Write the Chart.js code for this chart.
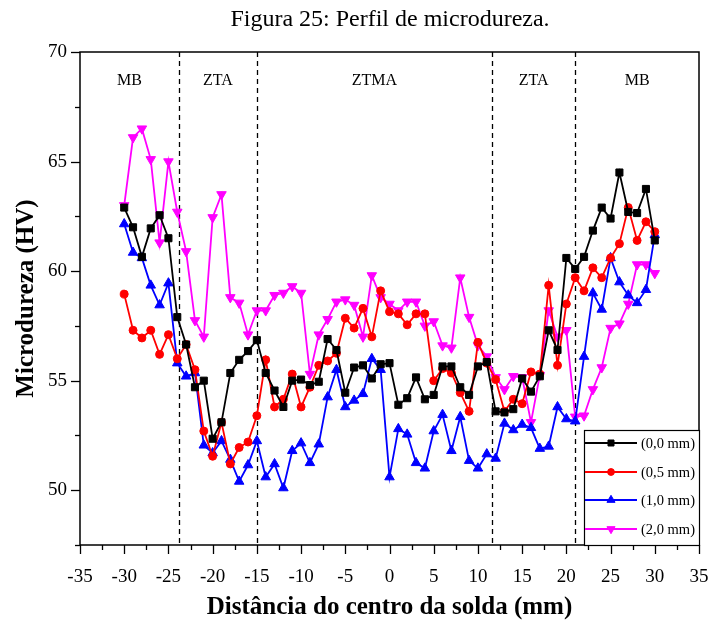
<!DOCTYPE html>
<html><head><meta charset="utf-8">
<script src="https://cdn.jsdelivr.net/npm/chart.js@4.4.0/dist/chart.umd.min.js"></script>
<style>html,body{margin:0;padding:0;background:#fff;}</style>
</head><body>
<canvas id="c" width="711" height="623"></canvas>
<script>
// ---- data ----
const positions = [-30,-29,-28,-27,-26,-25,-24,-23,-22,-21,-20,-19,-18,-17,-16,-15,-14,-13,-12,-11,-10,-9,-8,-7,-6,-5,-4,-3,-2,-1,0,1,2,3,4,5,6,7,8,9,10,11,12,13,14,15,16,17,18,19,20,21,22,23,24,25,26,27,28,29,30];
const depth00 = [62.9,62.0,60.65,61.95,62.55,61.5,57.9,56.65,54.7,55.0,52.35,53.1,55.35,55.95,56.35,56.85,55.35,54.55,53.8,55.0,55.05,54.8,54.95,56.9,56.4,54.45,55.6,55.7,55.1,55.75,55.8,53.9,54.2,55.15,54.15,54.35,55.65,55.65,54.7,54.35,55.65,55.85,53.6,53.55,53.7,55.1,54.5,55.2,57.3,56.4,60.6,60.1,60.65,61.85,62.9,62.4,64.5,62.7,62.65,63.75,61.4];
const depth05 = [58.95,57.3,56.95,57.3,56.2,57.1,56.0,56.65,55.5,52.7,51.55,53.1,51.2,51.95,52.2,53.4,55.95,53.8,54.15,55.3,53.8,54.7,55.7,55.9,56.25,57.85,57.4,58.3,57.0,59.1,58.15,58.05,57.55,58.05,58.05,55.0,55.55,55.35,54.45,53.6,56.75,55.8,55.05,53.6,54.15,53.95,55.4,55.3,59.35,55.7,58.5,59.7,59.1,60.15,59.7,60.6,61.25,62.9,61.4,62.25,61.8];
const depth10 = [62.15,60.85,60.6,59.35,58.45,59.45,55.8,55.2,55.35,52.05,51.7,52.25,51.4,50.4,51.15,52.25,50.6,51.2,50.1,51.8,52.15,51.25,52.1,54.25,55.5,53.8,54.1,54.4,56.0,55.5,50.6,52.8,52.55,51.25,51.0,52.7,53.45,51.8,53.35,51.35,51.0,51.65,51.45,53.05,52.75,53.0,52.85,51.9,52.0,53.8,53.25,53.15,56.1,59.0,58.25,60.6,59.5,58.9,58.55,59.15,61.65];
const depth20 = [63.0,66.1,66.5,65.1,61.3,65.0,62.7,60.9,57.75,57.0,62.45,63.5,58.8,58.55,57.1,58.2,58.2,58.9,59.0,59.3,59.0,55.3,57.1,57.8,58.6,58.7,58.45,57.0,59.8,58.8,58.5,58.2,58.6,58.6,57.5,57.7,56.6,56.5,59.7,57.9,56.6,56.1,55.15,54.6,55.2,55.15,53.1,55.25,58.2,57.0,57.3,53.35,53.4,54.6,55.6,57.4,57.6,58.5,60.3,60.3,59.9];
const seriesLabels = ['(0,0 mm)','(0,5 mm)','(1,0 mm)','(2,0 mm)'];
const zoneBounds = [-23.8, -15, 11.6, 21];
const zoneNames = ['MB','ZTA','ZTMA','ZTA','MB'];
const xTickLabels = [-35,-30,-25,-20,-15,-10,-5,0,5,10,15,20,25,30,35];
const yTickLabels = [50,55,60,65,70];

const FONT = '"Liberation Serif", "Times New Roman", serif';
const colors = ['#000000','#ff0000','#0000ff','#ff00ff'];
const styles = [
  {pointStyle:'rect', r:5, rot:0},
  {pointStyle:'circle', r:4, rot:0},
  {pointStyle:'triangle', r:5.5, rot:0},
  {pointStyle:'triangle', r:5.5, rot:180}
];
const allSeries = [depth00, depth05, depth10, depth20];

const datasets = allSeries.map((vals, i) => ({
  label: seriesLabels[i],
  data: positions.map((p, k) => ({x: p, y: vals[k]})),
  showLine: true,
  borderColor: colors[i],
  backgroundColor: colors[i],
  borderWidth: 1.8,
  pointStyle: styles[i].pointStyle,
  pointRadius: styles[i].r,
  pointRotation: styles[i].rot,
  pointBorderWidth: 1,
  tension: 0
}));

function drawMarker(ctx, st, x, y, color) {
  ctx.save();
  ctx.fillStyle = color; ctx.strokeStyle = color; ctx.lineWidth = 1;
  ctx.beginPath();
  const r = st.r;
  if (st.pointStyle === 'rect') {
    const s = Math.SQRT1_2 * r;
    ctx.rect(x - s, y - s, 2*s, 2*s);
  } else if (st.pointStyle === 'circle') {
    ctx.arc(x, y, r, 0, Math.PI*2);
  } else {
    const rad = st.rot * Math.PI / 180;
    for (let k = 0; k < 3; k++) {
      const a = rad + k * 2*Math.PI/3;
      const px = x + Math.sin(a) * r, py = y - Math.cos(a) * r;
      if (k === 0) ctx.moveTo(px, py); else ctx.lineTo(px, py);
    }
    ctx.closePath();
  }
  ctx.fill(); ctx.stroke();
  ctx.restore();
}

const deco = {
  id: 'deco',
  beforeDatasetsDraw(chart) {
    const {ctx, chartArea: a, scales: {x, y}} = chart;
    ctx.save();
    ctx.strokeStyle = '#000'; ctx.lineWidth = 1.3; ctx.setLineDash([5, 4]);
    zoneBounds.forEach(v => {
      const px = Math.round(x.getPixelForValue(v)) + 0.5;
      ctx.beginPath(); ctx.moveTo(px, a.top); ctx.lineTo(px, a.bottom); ctx.stroke();
    });
    ctx.setLineDash([]);
    ctx.fillStyle = '#000'; ctx.font = '16px ' + FONT;
    ctx.textAlign = 'center'; ctx.textBaseline = 'middle';
    const edges = [x.min].concat(zoneBounds, [x.max]);
    zoneNames.forEach((t, i) => {
      const mid = (edges[i] + edges[i+1]) / 2;
      ctx.fillText(t, x.getPixelForValue(mid), a.top + 29);
    });
    ctx.restore();
  },
  afterDraw(chart) {
    const {ctx, chartArea: a, scales: {x, y}} = chart;
    ctx.save();
    // title
    ctx.fillStyle = '#000'; ctx.font = '24px ' + FONT;
    ctx.textAlign = 'center'; ctx.textBaseline = 'middle';
    ctx.fillText('Figura 25: Perfil de microdureza.', 390, 20);
    // frame
    ctx.strokeStyle = '#000'; ctx.lineWidth = 1.5;
    ctx.strokeRect(a.left, a.top, a.right - a.left, a.bottom - a.top);
    // ticks
    ctx.lineWidth = 1.3;
    x.ticks.forEach(t => {
      const px = Math.round(x.getPixelForValue(t.value)) + 0.5;
      const major = Math.abs(t.value % 5) < 1e-6;
      ctx.beginPath(); ctx.moveTo(px, a.bottom); ctx.lineTo(px, a.bottom + (major ? 9 : 5)); ctx.stroke();
    });
    y.ticks.forEach(t => {
      const py = Math.round(y.getPixelForValue(t.value)) + 0.5;
      const major = Math.abs(t.value % 5) < 1e-6;
      ctx.beginPath(); ctx.moveTo(a.left, py); ctx.lineTo(a.left - (major ? 9 : 5), py); ctx.stroke();
    });
    // legend
    const lx = 584, ly = 430;
    ctx.fillStyle = '#fff';
    ctx.fillRect(lx, ly, a.right - lx, a.bottom - ly);
    ctx.strokeStyle = '#000'; ctx.lineWidth = 1.2;
    ctx.strokeRect(lx + 0.5, ly + 0.5, a.right - lx, a.bottom - ly);
    const rows = [443, 472, 500, 529];
    ctx.font = '14.5px ' + FONT; ctx.textAlign = 'left'; ctx.textBaseline = 'middle';
    seriesLabels.forEach((lab, i) => {
      ctx.strokeStyle = colors[i]; ctx.lineWidth = 1.8;
      ctx.beginPath(); ctx.moveTo(lx + 1, rows[i]); ctx.lineTo(lx + 53, rows[i]); ctx.stroke();
      drawMarker(ctx, {pointStyle: styles[i].pointStyle, r: styles[i].r * 0.85, rot: styles[i].rot}, lx + 27, rows[i], colors[i]);
      ctx.fillStyle = '#000';
      ctx.fillText(lab, lx + 57, rows[i] + 1);
    });
    ctx.restore();
  }
};

new Chart(document.getElementById('c'), {
  type: 'scatter',
  data: { datasets },
  options: {
    responsive: false,
    animation: false,
    layout: { padding: { top: 52, right: 12, left: 0, bottom: 0 } },
    plugins: { legend: { display: false }, tooltip: { enabled: false }, title: { display: false } },
    scales: {
      x: {
        type: 'linear', min: -35, max: 35,
        border: { display: false },
        grid: { display: false, drawTicks: false },
        ticks: {
          stepSize: 2.5, padding: 21, color: '#000', maxRotation: 0, autoSkip: false,
          font: { family: FONT, size: 19 },
          callback: v => xTickLabels.includes(v) ? String(v) : ''
        },
        title: { display: true, text: 'Distância do centro da solda (mm)', color: '#000',
          font: { family: FONT, size: 25, weight: 'bold' }, padding: { top: 0, bottom: 0 } },
        afterFit: s => { s.height = 78; s.paddingLeft = 0; s.paddingRight = 0; }
      },
      y: {
        type: 'linear', min: 47.5, max: 70,
        border: { display: false },
        grid: { display: false, drawTicks: false },
        ticks: {
          stepSize: 2.5, padding: 13, color: '#000', autoSkip: false,
          font: { family: FONT, size: 19 },
          callback: v => yTickLabels.includes(v) ? String(v) : ''
        },
        title: { display: true, text: 'Microdureza (HV)', color: '#000',
          font: { family: FONT, size: 25, weight: 'bold' }, padding: { top: 12, bottom: 0 } },
        afterFit: s => { s.width = 80; s.paddingTop = 0; s.paddingBottom = 0; }
      }
    }
  },
  plugins: [deco]
});
</script>
</body></html>
